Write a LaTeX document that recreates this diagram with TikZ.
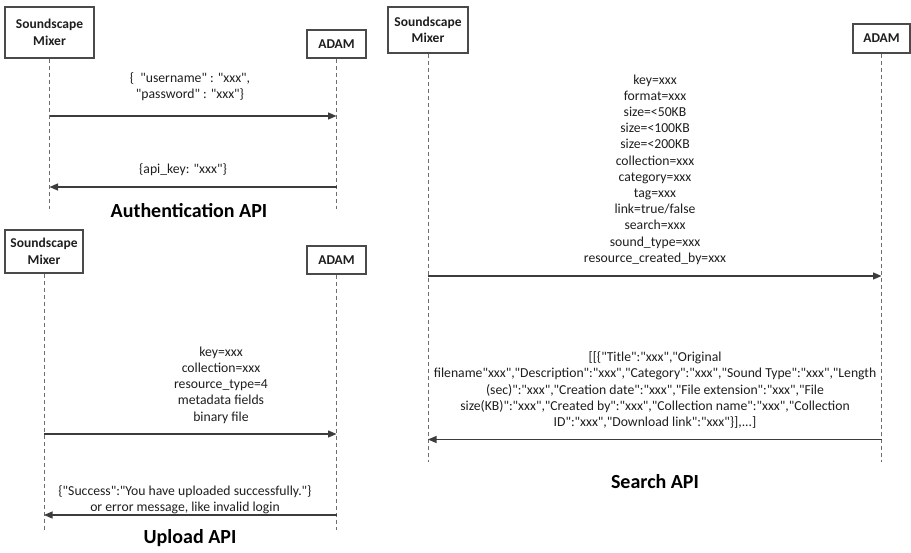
\documentclass[tikz,border=0pt]{standalone}
\usepackage{fontspec}
% a plain family keeps the typed " as a straight quote
\newfontfamily\calib{Carlito}
\usetikzlibrary{arrows.meta}
\definecolor{boxline}{HTML}{4A4A4A}
\definecolor{lifegray}{HTML}{6E6E6E}
\definecolor{arrowgray}{HTML}{3C3C3C}
\definecolor{inkgray}{HTML}{1E1E1E}
\begin{document}
\begin{tikzpicture}[x=1pt,y=-1pt,
  actor/.style={draw=boxline,line width=1.2pt,fill=white,inner sep=0pt,align=center,
    text=inkgray,font=\calib\fontsize{13.5}{16.5}\selectfont\bfseries},
  lifeline/.style={draw=lifegray,line width=1pt,dash pattern=on 4pt off 3pt},
  msg/.style={draw=arrowgray,line width=1.2pt,-{Triangle[length=8.5pt,width=7pt]}},
  msgtext/.style={align=center,inner sep=0pt,text=inkgray,font=\calib\fontsize{13.7}{16.2}\selectfont},
  apititle/.style={inner sep=0pt,text=black,font=\calib\fontsize{20}{24}\selectfont\bfseries}]
\useasboundingbox (0,0) rectangle (911,552);

% ---------------- Authentication API ----------------
\node[actor,minimum width=89pt,minimum height=51pt] (authSM) at (49.5,32.5) {Soundscape\\Mixer};
\node[actor,minimum width=59pt,minimum height=28pt] (authAD) at (336.5,44) {ADAM};
\coordinate (authEnd) at (0,209);
\coordinate (authReq) at (0,116);
\coordinate (authRes) at (0,187);
\draw[lifeline] (authSM.south) -- (authSM.south |- authEnd);
\draw[lifeline] (authAD.south) -- (authAD.south |- authEnd);
\draw[msg] (authSM.south |- authReq) -- (authAD.south |- authReq);
\draw[msg] (authAD.south |- authRes) -- (authSM.south |- authRes);
\node[msgtext] (authReqTxt) at (190,87) {\{\ \ "username" : "xxx",\\ "password" : "xxx"\}};
\node[msgtext] (authResTxt) at (183,170) {\{api\_key: "xxx"\}};
\node[apititle] (authTitle) at (189,211) {Authentication API};

% ---------------- Upload API ----------------
\node[actor,minimum width=78pt,minimum height=43pt] (upSM) at (44,251.5) {Soundscape\\Mixer};
\node[actor,minimum width=59pt,minimum height=28pt] (upAD) at (336.5,260) {ADAM};
\coordinate (upEnd) at (0,530);
\coordinate (upReq) at (0,434);
\coordinate (upRes) at (0,515);
\draw[lifeline] (upSM.south) -- (upSM.south |- upEnd);
\draw[lifeline] (upAD.south) -- (upAD.south |- upEnd);
\draw[msg] (upSM.south |- upReq) -- (upAD.south |- upReq);
\draw[msg] (upAD.south |- upRes) -- (upSM.south |- upRes);
\node[msgtext] (upReqTxt) at (221,385) {key=xxx\\collection=xxx\\resource\_type=4\\metadata fields\\binary file};
\node[msgtext] (upResTxt) at (185,500) {\{"Success":"You have uploaded successfully."\}\\or error message, like invalid login};
\node[apititle] (upTitle) at (190,538) {Upload API};

% ---------------- Search API ----------------
\node[actor,minimum width=80pt,minimum height=46pt] (seSM) at (428,30) {Soundscape\\Mixer};
\node[actor,minimum width=57pt,minimum height=29pt] (seAD) at (881.5,38.5) {ADAM};
\coordinate (seEnd) at (0,462);
\coordinate (seReq) at (0,276);
\coordinate (seRes) at (0,439.5);
\draw[lifeline] (seSM.south) -- (seSM.south |- seEnd);
\draw[lifeline] (seAD.south) -- (seAD.south |- seEnd);
\draw[msg] (seSM.south |- seReq) -- (seAD.south |- seReq);
\draw[msg] (seAD.south |- seRes) -- (seSM.south |- seRes);
\node[msgtext] (seReqTxt) at (655,169.5) {key=xxx\\format=xxx\\size=<50KB\\size=<100KB\\size=<200KB\\collection=xxx\\category=xxx\\tag=xxx\\link=true/false\\search=xxx\\sound\_type=xxx\\resource\_created\_by=xxx};
\node[msgtext] (seResTxt) at (655,390) {[[\{"Title":"xxx","Original\\filename"xxx","Description":"xxx","Category":"xxx","Sound Type":"xxx","Length\\(sec)":"xxx","Creation date":"xxx","File extension":"xxx","File\\size(KB)":"xxx","Created by":"xxx","Collection name":"xxx","Collection\\ID":"xxx","Download link":"xxx"\}],...]};
\node[apititle] (seTitle) at (655,482) {Search API};
\end{tikzpicture}
\end{document}
